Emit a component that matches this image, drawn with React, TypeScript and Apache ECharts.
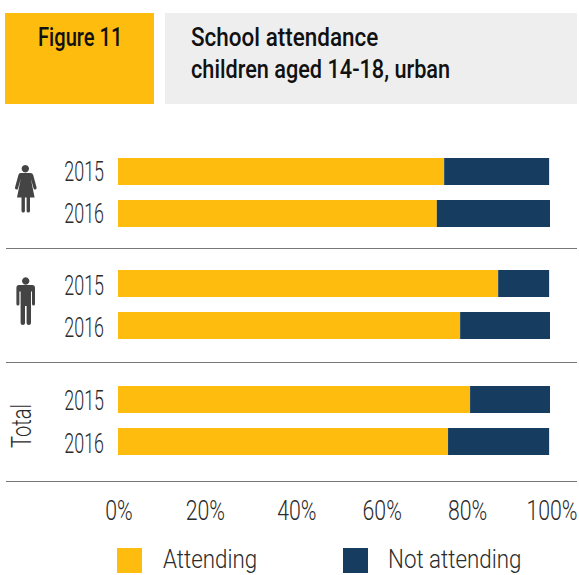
import React, { useEffect, useRef } from "react";
import * as echarts from "echarts";

// School attendance shares, in percent, one pair of bars per group.
const years = ["2015", "2016"];
const percentTicks = [0, 20, 40, 60, 80, 100];
const seriesNames = ["Attending", "Not attending"];
const femaleAttending = [75.5, 73.8];
const femaleNotAttending = [24.3, 26.2];
const maleAttending = [88.0, 79.2];
const maleNotAttending = [11.8, 20.8];
const totalAttending = [81.5, 76.4];
const totalNotAttending = [18.5, 23.4];

const YELLOW = "#FEBC0E";
const NAVY = "#163D5F";
const INK = "#2b2b2b";
const FONT = 'Roboto, "Liberation Sans", sans-serif';

// The thin typeface is condensed horizontally, so labels are drawn as scaled text.
const YEAR_SCALE = 0.64;
const TICK_SCALE = 0.76;
const LEGEND_SCALE = 0.86;
const TOTAL_SCALE = 0.72;
const tickNudge = [1, 1, 6, 5, 4, 2];
const yearNudge = [
  [-0.5, -0.5],
  [1.5, 2],
  [0.5, 1.5],
];

echarts.graphic.registerShape(
  "womanIcon",
  echarts.graphic.extendPath(
    "M25.3 165a3.7 3.7 0 1 0 .01 0zM20.5 173H30.5Q32.6 173 33.2 175L36.6 187.5Q36.8 189.4 35.2 189.6Q34 189.7 33.6 188.4L30.8 178.5L34.6 197.5H30V211Q30 212.6 28.3 212.6Q26.6 212.6 26.6 211V197.5H24.9V211Q24.9 212.6 23.2 212.6Q21.5 212.6 21.5 211V197.5H17L20.8 178.5L18 188.4Q17.6 189.7 16.4 189.6Q14.8 189.4 15 187.5L18.4 175Q19 173 20.5 173Z",
    {}
  )
);
echarts.graphic.registerShape(
  "manIcon",
  echarts.graphic.extendPath(
    "M25.7 277.3a3.7 3.7 0 1 0 .01 0zM19 285H32.2Q35 285 35 288V304Q35 305.6 33.5 305.6Q32 305.6 32 304V291.5H31V323Q31 325 28.8 325Q26.6 325 26.6 323V306H25V323Q25 325 22.8 325Q20.6 325 20.6 323V291.5H19.4V304Q19.4 305.6 17.9 305.6Q16.4 305.6 16.4 304V288Q16.4 285 19 285Z",
    {}
  )
);

const groups = [
  { top: 150.5, attending: femaleAttending, notAttending: femaleNotAttending },
  { top: 262.5, attending: maleAttending, notAttending: maleNotAttending },
  { top: 378.5, attending: totalAttending, notAttending: totalNotAttending },
];

function separator(y: number) {
  return {
    type: "line",
    shape: { x1: 6, y1: y, x2: 577, y2: y },
    style: { stroke: "#777777", lineWidth: 1 },
  };
}

function thinText(
  text: string,
  x: number,
  y: number,
  align: string,
  scaleX: number,
  rotation = 0,
  fontSize = 28
) {
  return {
    type: "text",
    x,
    y,
    rotation,
    scaleX,
    style: {
      text,
      fontFamily: FONT,
      fontWeight: 300,
      fontSize,
      fill: INK,
      align,
      verticalAlign: "middle",
    },
  };
}

function headingText(text: string, x: number, y: number, scaleX: number) {
  return {
    type: "text",
    x,
    y,
    scaleX,
    style: {
      text,
      fontFamily: FONT,
      fontWeight: 500,
      fontSize: 26,
      fill: "#111111",
      align: "left",
      verticalAlign: "middle",
    },
  };
}

export default function App() {
  const ref = useRef<HTMLDivElement>(null);

  useEffect(() => {
    const chart = echarts.init(ref.current!, undefined, { renderer: "svg" });

    chart.setOption({
      animation: false,
      backgroundColor: "#ffffff",
      grid: groups.map((g) => ({
        left: 118,
        width: 432,
        top: g.top,
        height: 84,
        outerBoundsMode: "none",
      })),
      xAxis: groups.map((_, i) => ({
        type: "value",
        gridIndex: i,
        min: 0,
        max: 100,
        interval: 20,
        splitLine: { show: false },
        axisLine: { show: false },
        axisTick: { show: false },
        axisLabel: { show: false },
      })),
      yAxis: groups.map((_, i) => ({
        type: "category",
        gridIndex: i,
        inverse: true,
        data: years,
        axisLine: { show: false },
        axisTick: { show: false },
        axisLabel: { show: false },
      })),
      legend: seriesNames.map((name, i) => ({
        data: [name],
        left: i === 0 ? 117 : 343,
        top: 548,
        padding: 0,
        itemWidth: 25,
        itemHeight: 25,
        icon: "rect",
        selectedMode: false,
        formatter: () => "",
      })),
      series: groups.flatMap((g, i) => [
        {
          type: "bar",
          name: seriesNames[0],
          stack: `group${i}`,
          xAxisIndex: i,
          yAxisIndex: i,
          barWidth: 27,
          data: g.attending,
          itemStyle: { color: YELLOW },
        },
        {
          type: "bar",
          name: seriesNames[1],
          stack: `group${i}`,
          xAxisIndex: i,
          yAxisIndex: i,
          barWidth: 27,
          data: g.notAttending,
          itemStyle: { color: NAVY },
        },
      ]),
    });

    // Year and percent labels follow the axes' own pixel positions.
    const yearLabels = groups.flatMap((_, i) =>
      years.map((year, j) => {
        const y = chart.convertToPixel({ yAxisIndex: i }, year) as number;
        return thinText(year, 104, y + yearNudge[i][j], "right", YEAR_SCALE);
      })
    );
    const lastGroup = groups.length - 1;
    const tickLabels = percentTicks.map((tick, i) => {
      const x = chart.convertToPixel({ xAxisIndex: lastGroup }, tick) as number;
      return thinText(`${tick}%`, x + tickNudge[i], 510.5, "center", TICK_SCALE);
    });

    chart.setOption({
      graphic: [
        { type: "rect", shape: { x: 5, y: 13, width: 149, height: 91 }, style: { fill: YELLOW } },
        { type: "rect", shape: { x: 165, y: 13, width: 412, height: 91 }, style: { fill: "#EEEEEE" } },
        headingText("Figure 11", 38, 37, 0.775),
        headingText("School attendance", 191, 37, 0.865),
        headingText("children aged 14-18, urban", 191, 69, 0.835),
        separator(248.5),
        separator(362.5),
        separator(481.5),
        { type: "womanIcon", x: 0, y: 0, style: { fill: "#444444" } },
        { type: "manIcon", x: 0, y: 0, style: { fill: "#444444" } },
        thinText("Total", 21, 426, "center", TOTAL_SCALE, Math.PI / 2),
        ...yearLabels,
        ...tickLabels,
        thinText(seriesNames[0], 163, 559, "left", LEGEND_SCALE, 0, 26),
        thinText(seriesNames[1], 388, 559, "left", LEGEND_SCALE, 0, 26),
      ],
    });

    return () => chart.dispose();
  }, []);

  return (
    <div
      ref={ref}
      style={{ position: "absolute", left: 0, top: 0, width: 579, height: 575, overflow: "hidden" }}
    />
  );
}
